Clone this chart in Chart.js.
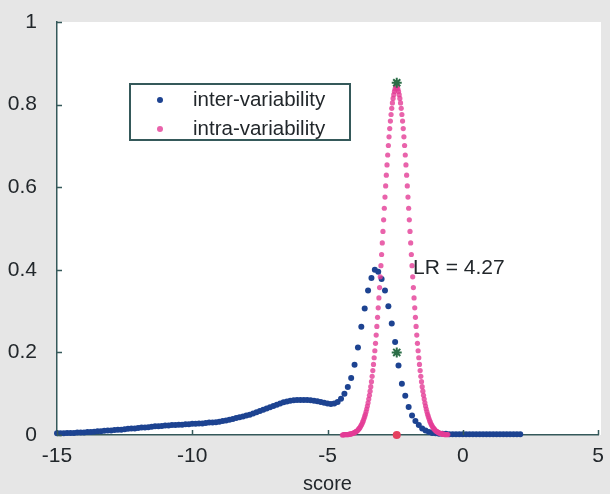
<!DOCTYPE html>
<html>
<head>
<meta charset="utf-8">
<script src="https://cdn.jsdelivr.net/npm/chart.js@4.4.1/dist/chart.umd.min.js"></script>
<style>
  html, body { margin: 0; padding: 0; background: #e6e6e6; }
  #wrap { width: 610px; height: 494px; }
</style>
</head>
<body>
<div id="wrap"><canvas id="c"></canvas></div>
<script>
// inter-variability score distribution (blue)
const interScore = [
  -15, -14.875, -14.75, -14.625, -14.5, -14.375, -14.25, -14.125, -14,
  -13.875, -13.75, -13.625, -13.5, -13.375, -13.25, -13.125, -13,
  -12.875, -12.75, -12.625, -12.5, -12.375, -12.25, -12.125, -12,
  -11.875, -11.75, -11.625, -11.5, -11.375, -11.25, -11.125, -11,
  -10.875, -10.75, -10.625, -10.5, -10.375, -10.25, -10.125, -10,
  -9.875, -9.75, -9.625, -9.5, -9.375, -9.25, -9.125, -9,
  -8.875, -8.75, -8.625, -8.5, -8.375, -8.25, -8.125, -8,
  -7.875, -7.75, -7.625, -7.5, -7.375, -7.25, -7.125, -7,
  -6.875, -6.75, -6.625, -6.5, -6.375, -6.25, -6.125, -6,
  -5.875, -5.75, -5.625, -5.5, -5.375, -5.25, -5.125, -5,
  -4.875, -4.75, -4.625, -4.5, -4.375, -4.25, -4.125, -4,
  -3.875, -3.75, -3.625, -3.5, -3.375, -3.25, -3.125, -3,
  -2.875, -2.75, -2.625, -2.5, -2.375, -2.25, -2.125, -2,
  -1.875, -1.75, -1.625, -1.5, -1.375, -1.25, -1.125, -1,
  -0.875, -0.75, -0.625, -0.5, -0.375, -0.25, -0.125, 0,
  0.125, 0.25, 0.375, 0.5, 0.625, 0.75, 0.875, 1,
  1.125, 1.25, 1.375, 1.5, 1.625, 1.75, 1.875, 2,
  2.125
];
const interDensity = [
  0.004, 0.004, 0.004, 0.005, 0.005, 0.005, 0.006, 0.006, 0.006,
  0.007, 0.007, 0.008, 0.009, 0.009, 0.010, 0.011, 0.011,
  0.012, 0.013, 0.013, 0.014, 0.015, 0.016, 0.016, 0.017,
  0.018, 0.018, 0.019, 0.020, 0.021, 0.021, 0.022, 0.023,
  0.023, 0.024, 0.024, 0.025, 0.025, 0.026, 0.026, 0.027,
  0.027, 0.028, 0.028, 0.029, 0.030, 0.030, 0.031, 0.032,
  0.034, 0.035, 0.037, 0.039, 0.041, 0.043, 0.045, 0.047,
  0.049, 0.052, 0.055, 0.058, 0.061, 0.064, 0.067, 0.070,
  0.073, 0.076, 0.079, 0.081, 0.083, 0.084, 0.085, 0.085,
  0.085, 0.085, 0.084, 0.083, 0.082, 0.080, 0.078, 0.076,
  0.075, 0.076, 0.080, 0.088, 0.100, 0.116, 0.138, 0.170,
  0.212, 0.262, 0.306, 0.350, 0.380, 0.400, 0.395, 0.378,
  0.350, 0.312, 0.270, 0.225, 0.168, 0.124, 0.095, 0.068,
  0.047, 0.034, 0.024, 0.016, 0.011, 0.007, 0.005, 0.004,
  0.003, 0.003, 0.003, 0.002, 0.002, 0.002, 0.002, 0.002,
  0.002, 0.002, 0.002, 0.002, 0.002, 0.002, 0.002, 0.002,
  0.002, 0.002, 0.002, 0.002, 0.002, 0.002, 0.002, 0.002,
  0.002
];

// intra-variability score distribution (pink)
const intraScore = [
  -4.45, -4.425, -4.4, -4.375, -4.35, -4.325, -4.3, -4.275, -4.25, -4.225,
  -4.2, -4.175, -4.15, -4.125, -4.1, -4.075, -4.05, -4.025, -4,
  -3.975, -3.95, -3.925, -3.9, -3.875, -3.85, -3.825, -3.8, -3.775, -3.75,
  -3.725, -3.7, -3.675, -3.65, -3.625, -3.6, -3.575, -3.55, -3.525, -3.5,
  -3.475, -3.45, -3.425, -3.4, -3.375, -3.35, -3.325, -3.3, -3.275, -3.25,
  -3.225, -3.2, -3.175, -3.15, -3.125, -3.1, -3.075, -3.05, -3.025, -3,
  -2.975, -2.95, -2.925, -2.9, -2.875, -2.85, -2.825, -2.8, -2.775, -2.75,
  -2.725, -2.7, -2.675, -2.65, -2.625, -2.6, -2.575, -2.55, -2.525, -2.5,
  -2.475, -2.45, -2.425, -2.4, -2.375, -2.35, -2.325, -2.3, -2.275, -2.25,
  -2.225, -2.2, -2.175, -2.15, -2.125, -2.1, -2.075, -2.05, -2.025, -2,
  -1.975, -1.95, -1.925, -1.9, -1.875, -1.85, -1.825, -1.8, -1.775, -1.75,
  -1.725, -1.7, -1.675, -1.65, -1.625, -1.6, -1.575, -1.55, -1.525, -1.5,
  -1.475, -1.45, -1.425, -1.4, -1.375, -1.35, -1.325, -1.3, -1.275, -1.25,
  -1.225, -1.2, -1.175, -1.15, -1.125, -1.1, -1.075, -1.05, -1.025, -1,
  -0.975, -0.95, -0.925, -0.9, -0.875, -0.85, -0.825, -0.8, -0.775, -0.75,
  -0.725, -0.7, -0.675, -0.65, -0.625, -0.6, -0.575, -0.55
];
const intraDensity = [
  0, 0, 0.001, 0.001, 0.001, 0.001, 0.001, 0.001, 0.001, 0.001,
  0.002, 0.002, 0.002, 0.003, 0.003, 0.004, 0.004, 0.005, 0.006,
  0.007, 0.008, 0.009, 0.010, 0.012, 0.014, 0.016, 0.018, 0.021, 0.024,
  0.027, 0.031, 0.035, 0.040, 0.045, 0.050, 0.056, 0.063, 0.070, 0.078,
  0.087, 0.096, 0.106, 0.117, 0.129, 0.142, 0.156, 0.171, 0.187, 0.204,
  0.222, 0.242, 0.263, 0.285, 0.308, 0.332, 0.357, 0.383, 0.410, 0.437,
  0.465, 0.493, 0.521, 0.549, 0.576, 0.603, 0.629, 0.654, 0.678, 0.701,
  0.722, 0.742, 0.760, 0.776, 0.791, 0.804, 0.815, 0.824, 0.832, 0.838,
  0.843, 0.845, 0.843, 0.838, 0.832, 0.824, 0.815, 0.804, 0.791, 0.776,
  0.760, 0.742, 0.722, 0.701, 0.678, 0.654, 0.629, 0.603, 0.576, 0.549,
  0.521, 0.493, 0.465, 0.437, 0.410, 0.383, 0.357, 0.332, 0.308, 0.285,
  0.263, 0.242, 0.222, 0.204, 0.187, 0.171, 0.156, 0.142, 0.129, 0.117,
  0.106, 0.096, 0.087, 0.078, 0.070, 0.063, 0.056, 0.050, 0.045, 0.040,
  0.035, 0.031, 0.027, 0.024, 0.021, 0.018, 0.016, 0.014, 0.012, 0.010,
  0.009, 0.008, 0.007, 0.006, 0.005, 0.004, 0.004, 0.003, 0.003, 0.002,
  0.002, 0.002, 0.001, 0.001, 0.001, 0.001, 0.001, 0.001
];

// the test score and the two densities read there
const markScore = [-2.44, -2.44];
const markDensity = [0.853, 0.2];
const cutScore = [-2.44];
const cutDensity = [0];

const xTicks = [-15, -10, -5, 0, 5];
const xTickLabels = ['-15', '-10', '-5', '0', '5'];
const yTicks = [0, 0.2, 0.4, 0.6, 0.8, 1];
const yTickLabels = ['0', '0.2', '0.4', '0.6', '0.8', '1'];
const seriesNames = ['inter-variability', 'intra-variability'];
const lrText = 'LR = 4.27';
const lrAt = [-1.84, 0.404];

const BLUE = '#1d4391';
const PINK = 'rgba(228, 60, 150, 0.8)';
const AXIS = '#35595a';
const TEXT = '#22272b';
const FONT = '"Liberation Sans", Arial, sans-serif';

const toPoints = (xs, ys) => xs.map((x, i) => ({ x, y: ys[i] }));

const plotDecor = {
  id: 'plotDecor',
  beforeDraw(chart) {
    const { ctx, chartArea: a } = chart;
    ctx.save();
    ctx.fillStyle = '#ffffff';
    ctx.fillRect(a.left, a.top, a.right - a.left + 3, a.bottom - a.top);
    ctx.restore();
  },
  afterDraw(chart) {
    const { ctx, chartArea: a, scales } = chart;
    ctx.save();
    // inward tick marks, matlab style
    ctx.strokeStyle = AXIS;
    ctx.lineWidth = 1.5;
    ctx.beginPath();
    xTicks.forEach(v => {
      const px = Math.round(scales.x.getPixelForValue(v)) + 0.5;
      ctx.moveTo(px, a.bottom);
      ctx.lineTo(px, a.bottom - 5);
    });
    yTicks.forEach(v => {
      const py = Math.round(scales.y.getPixelForValue(v)) + 0.5;
      ctx.moveTo(a.left, py);
      ctx.lineTo(a.left + 5, py);
    });
    ctx.stroke();

    // legend box
    const lx = a.left + 73, ly = a.top + 62, lw = 220, lh = 56;
    ctx.fillStyle = '#ffffff';
    ctx.fillRect(lx, ly, lw, lh);
    ctx.strokeStyle = AXIS;
    ctx.lineWidth = 2;
    ctx.strokeRect(lx, ly, lw, lh);
    const colors = [BLUE, PINK];
    ctx.font = '20.5px ' + FONT;
    ctx.textBaseline = 'middle';
    ctx.textAlign = 'left';
    seriesNames.forEach((name, i) => {
      const cy = ly + 16 + i * 29;
      ctx.fillStyle = colors[i];
      ctx.beginPath();
      ctx.arc(lx + 30, cy, 3, 0, Math.PI * 2);
      ctx.fill();
      ctx.fillStyle = TEXT;
      ctx.fillText(name, lx + 63, cy);
    });

    // likelihood ratio annotation
    ctx.font = '21px ' + FONT;
    ctx.fillStyle = TEXT;
    ctx.fillText(lrText, scales.x.getPixelForValue(lrAt[0]), scales.y.getPixelForValue(lrAt[1]));
    ctx.restore();
  }
};

new Chart(document.getElementById('c'), {
  type: 'scatter',
  data: {
    datasets: [
      {
        label: seriesNames[0],
        data: toPoints(interScore, interDensity),
        backgroundColor: BLUE,
        borderWidth: 0,
        pointRadius: 3,
        clip: 6,
        order: 3
      },
      {
        label: seriesNames[1],
        data: toPoints(intraScore, intraDensity),
        backgroundColor: PINK,
        borderWidth: 0,
        pointRadius: 2.6,
        clip: 6,
        order: 2
      },
      {
        label: 'cut',
        data: toPoints(cutScore, cutDensity),
        backgroundColor: '#e5405e',
        borderWidth: 0,
        pointRadius: 4,
        clip: 6,
        order: 1
      },
      {
        label: 'marks',
        data: toPoints(markScore, markDensity),
        pointStyle: 'star',
        borderColor: '#2b6e47',
        borderWidth: 2,
        pointRadius: 5,
        clip: 8,
        order: 0
      }
    ]
  },
  options: {
    responsive: true,
    maintainAspectRatio: false,
    animation: false,
    devicePixelRatio: 1,
    layout: { padding: { top: 22, right: 12, left: 0, bottom: 0 } },
    plugins: {
      legend: { display: false },
      tooltip: { enabled: false }
    },
    scales: {
      x: {
        type: 'linear',
        min: -15,
        max: 5,
        afterBuildTicks: s => { s.ticks = xTicks.map(v => ({ value: v })); },
        afterFit: s => { s.height = 59; s.paddingLeft = 0; s.paddingRight = 0; },
        grid: { display: false, drawTicks: false },
        border: { display: true, color: AXIS, width: 1.5 },
        ticks: {
          color: TEXT,
          font: { family: FONT, size: 21 },
          padding: 9,
          maxRotation: 0,
          callback: (v, i) => xTickLabels[i]
        },
        title: {
          display: true,
          text: 'score',
          color: TEXT,
          font: { family: FONT, size: 20, lineHeight: 1 },
          padding: 0
        }
      },
      y: {
        min: 0,
        max: 1,
        afterBuildTicks: s => { s.ticks = yTicks.map(v => ({ value: v })); },
        afterFit: s => { s.width = 57; s.paddingTop = 0; s.paddingBottom = 0; },
        grid: { display: false, drawTicks: false },
        border: { display: true, color: AXIS, width: 1.5 },
        ticks: {
          color: TEXT,
          font: { family: FONT, size: 21 },
          padding: 20,
          callback: (v, i) => yTickLabels[i]
        }
      }
    }
  },
  plugins: [plotDecor]
});
</script>
</body>
</html>
